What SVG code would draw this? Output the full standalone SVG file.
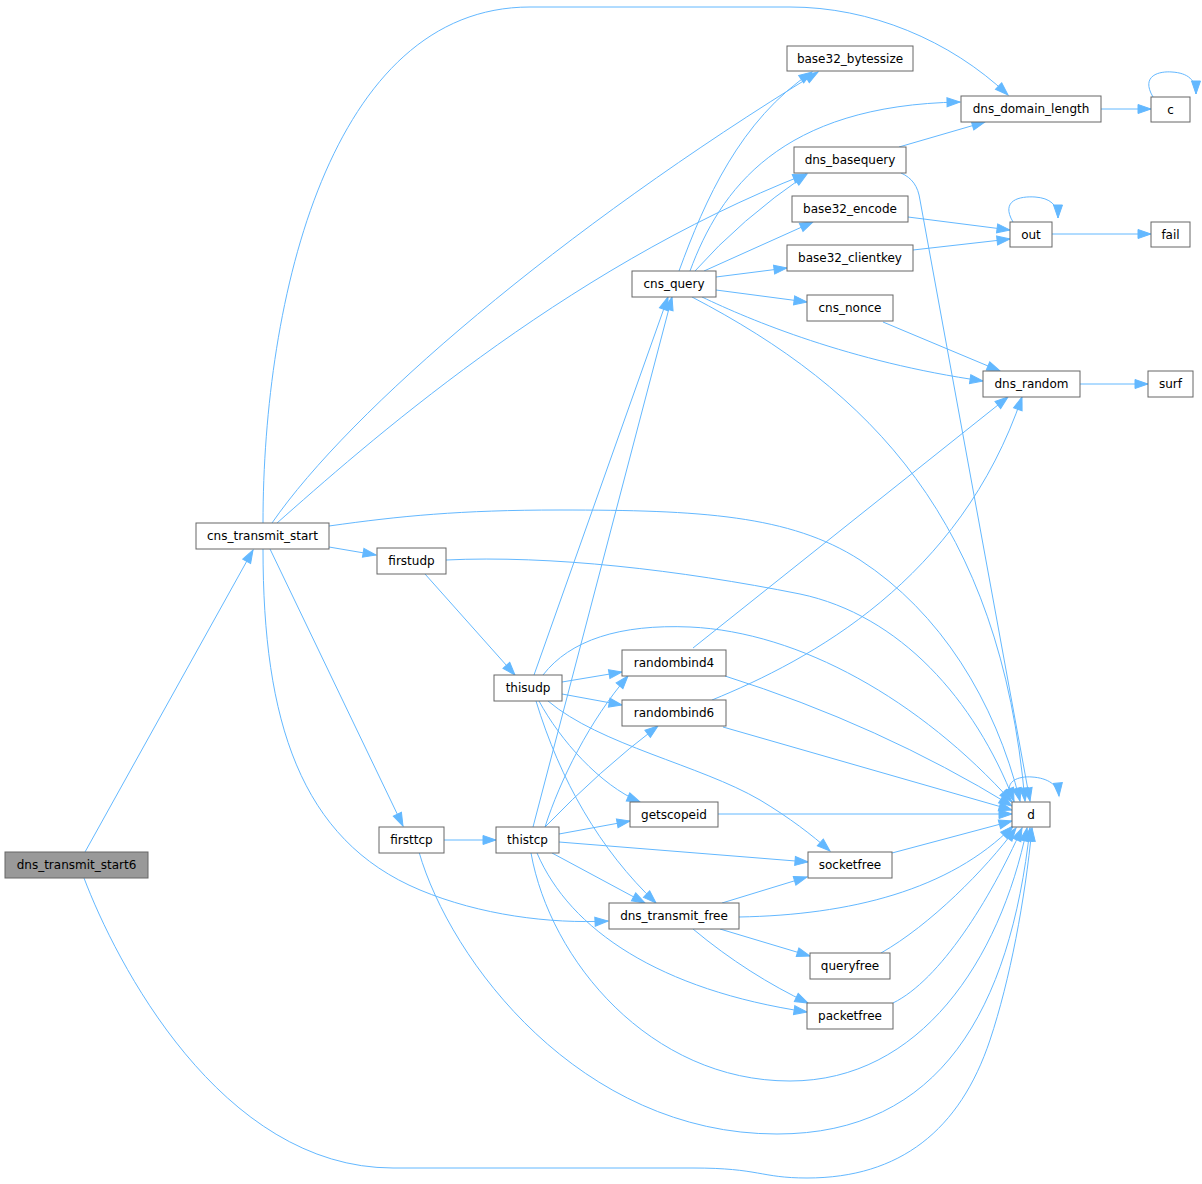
<svg xmlns="http://www.w3.org/2000/svg" width="1202" height="1184" viewBox="0 0 1202 1184">
<style>
.n rect{fill:#ffffff;stroke:#666666;stroke-width:1}
.r rect{fill:#999999;stroke:#666666;stroke-width:1}
text{font-family:"DejaVu Sans","Liberation Sans",sans-serif;font-size:12px;text-anchor:middle;fill:#000000}
.e path{fill:none;stroke:#63b8ff;stroke-width:1;marker-end:url(#ah)}
</style>
<defs>
<marker id="ah" markerUnits="userSpaceOnUse" markerWidth="14" markerHeight="10" refX="13" refY="4.5" orient="auto" overflow="visible">
<path d="M0,0 L13,4.5 L0,9 z" fill="#63b8ff" stroke="#63b8ff" stroke-width="1"/>
</marker>
</defs>
<rect width="1202" height="1184" fill="#ffffff"/>
<g id="edges" class="e">
<path d="M85,852 L253,550"/>
<path d="M84,878 C115,960 220,1168 393,1168 L693,1168 C760,1168 760,1178 807,1178 C900,1178 960,1130 990,1040 C1010,980 1025,900 1032,828"/>
<path d="M263,523 C263,300 330,7 530,7 L790,7 C870,7 950,40 1008,95"/>
<path d="M272,523 C350,410 560,230 818,72"/>
<path d="M277,523 C360,450 560,270 806,174"/>
<path d="M329,526 C400,516 460,510 560,510 C700,510 790,515 860,560 C940,612 995,700 1020,801"/>
<path d="M329,547 L376,555"/>
<path d="M270,549 L403,826"/>
<path d="M263,549 C263,720 300,840 420,890 C480,915 550,924 608,921"/>
<path d="M679,271 C705,200 740,120 812,72"/>
<path d="M690,271 C720,190 780,105 960,102"/>
<path d="M695,271 Q740,220 807,174"/>
<path d="M704,271 L813,222"/>
<path d="M716,277 L787,268"/>
<path d="M716,290 L807,302"/>
<path d="M702,297 C750,320 850,362 983,381"/>
<path d="M692,297 C870,390 1000,520 1025,801"/>
<path d="M899,147 L985,122"/>
<path d="M901,173 C912,178 918,186 920,200 L1030,801"/>
<path d="M1101,109 L1151,109"/>
<path d="M1153,97 C1140,75 1160,71 1172,72 C1188,73 1196,80 1196,94"/>
<path d="M908,217 L1010,230"/>
<path d="M913,250 L1010,239"/>
<path d="M1013,222 C1000,200 1020,196 1035,197 C1050,198 1058,205 1058,218"/>
<path d="M1052,234 L1151,234"/>
<path d="M883,322 L1000,371"/>
<path d="M1080,384 L1148,384"/>
<path d="M446,560 C550,555 680,570 800,594 C900,615 975,700 1014,801"/>
<path d="M425,574 L515,675"/>
<path d="M444,840 L496,840"/>
<path d="M419,852 C450,960 580,1134 777,1134 C940,1134 1010,1010 1030,828"/>
<path d="M534,675 L668,297"/>
<path d="M543,675 C570,640 620,624 690,627 C800,632 920,700 1012,802"/>
<path d="M562,682 L622,672"/>
<path d="M562,694 L622,705"/>
<path d="M539,701 C560,740 600,785 640,802"/>
<path d="M548,701 C600,745 700,765 760,800 C790,818 812,835 830,851"/>
<path d="M536,701 C560,780 600,850 656,903"/>
<path d="M533,827 L672,297"/>
<path d="M545,827 C560,780 590,720 628,676"/>
<path d="M545,827 Q600,770 658,726"/>
<path d="M559,834 L630,821"/>
<path d="M559,842 L808,862"/>
<path d="M552,853 L645,903"/>
<path d="M537,853 C570,930 660,990 807,1012"/>
<path d="M531,853 C550,960 650,1081 790,1081 C920,1081 1000,960 1027,828"/>
<path d="M693,648 L1008,397"/>
<path d="M725,676 Q880,725 1012,806"/>
<path d="M712,700 C810,660 960,580 1022,397"/>
<path d="M723,727 L1012,810"/>
<path d="M718,814 L1012,814"/>
<path d="M892,853 L1012,821"/>
<path d="M722,903 L807,877"/>
<path d="M739,917 C850,915 950,890 1013,826"/>
<path d="M720,929 L810,956"/>
<path d="M693,929 C730,960 770,985 808,1003"/>
<path d="M881,953 C930,925 985,870 1016,828"/>
<path d="M893,1003 C940,980 990,900 1022,828"/>
<path d="M1014,802 C1000,780 1020,776 1032,777 C1048,778 1058,785 1059,796"/>
</g>
<g id="dns_transmit_start6" class="r"><rect x="5" y="852" width="143" height="26"/><text x="76.5" y="869">dns_transmit_start6</text></g>
<g id="cns_transmit_start" class="n"><rect x="196" y="523" width="133" height="26"/><text x="262.5" y="540">cns_transmit_start</text></g>
<g id="firstudp" class="n"><rect x="377" y="548" width="69" height="26"/><text x="411.5" y="565">firstudp</text></g>
<g id="firsttcp" class="n"><rect x="379" y="827" width="65" height="26"/><text x="411.5" y="844">firsttcp</text></g>
<g id="thisudp" class="n"><rect x="494" y="675" width="68" height="26"/><text x="528" y="692">thisudp</text></g>
<g id="thistcp" class="n"><rect x="496" y="827" width="63" height="26"/><text x="527.5" y="844">thistcp</text></g>
<g id="cns_query" class="n"><rect x="632" y="271" width="84" height="26"/><text x="674" y="288">cns_query</text></g>
<g id="randombind4" class="n"><rect x="622" y="650" width="104" height="26"/><text x="674" y="667">randombind4</text></g>
<g id="randombind6" class="n"><rect x="622" y="700" width="104" height="26"/><text x="674" y="717">randombind6</text></g>
<g id="getscopeid" class="n"><rect x="630" y="802" width="88" height="25"/><text x="674" y="818.5">getscopeid</text></g>
<g id="dns_transmit_free" class="n"><rect x="609" y="903" width="130" height="26"/><text x="674" y="920">dns_transmit_free</text></g>
<g id="base32_bytessize" class="n"><rect x="787" y="46" width="126" height="25"/><text x="850" y="62.5">base32_bytessize</text></g>
<g id="dns_basequery" class="n"><rect x="794" y="147" width="112" height="26"/><text x="850" y="164">dns_basequery</text></g>
<g id="base32_encode" class="n"><rect x="792" y="196" width="116" height="26"/><text x="850" y="213">base32_encode</text></g>
<g id="base32_clientkey" class="n"><rect x="787" y="245" width="126" height="26"/><text x="850" y="262">base32_clientkey</text></g>
<g id="cns_nonce" class="n"><rect x="807" y="295" width="86" height="26"/><text x="850" y="312">cns_nonce</text></g>
<g id="socketfree" class="n"><rect x="808" y="852" width="84" height="26"/><text x="850" y="869">socketfree</text></g>
<g id="queryfree" class="n"><rect x="810" y="953" width="80" height="26"/><text x="850" y="970">queryfree</text></g>
<g id="packetfree" class="n"><rect x="807" y="1003" width="86" height="26"/><text x="850" y="1020">packetfree</text></g>
<g id="dns_domain_length" class="n"><rect x="961" y="96" width="140" height="26"/><text x="1031" y="113">dns_domain_length</text></g>
<g id="out" class="n"><rect x="1010" y="222" width="42" height="25"/><text x="1031" y="238.5">out</text></g>
<g id="dns_random" class="n"><rect x="983" y="371" width="97" height="26"/><text x="1031.5" y="388">dns_random</text></g>
<g id="d" class="n"><rect x="1012" y="802" width="38" height="25"/><text x="1031" y="818.5">d</text></g>
<g id="c" class="n"><rect x="1151" y="97" width="39" height="25"/><text x="1170.5" y="113.5">c</text></g>
<g id="fail" class="n"><rect x="1151" y="222" width="39" height="25"/><text x="1170.5" y="238.5">fail</text></g>
<g id="surf" class="n"><rect x="1148" y="371" width="45" height="26"/><text x="1170.5" y="388">surf</text></g>
</svg>
